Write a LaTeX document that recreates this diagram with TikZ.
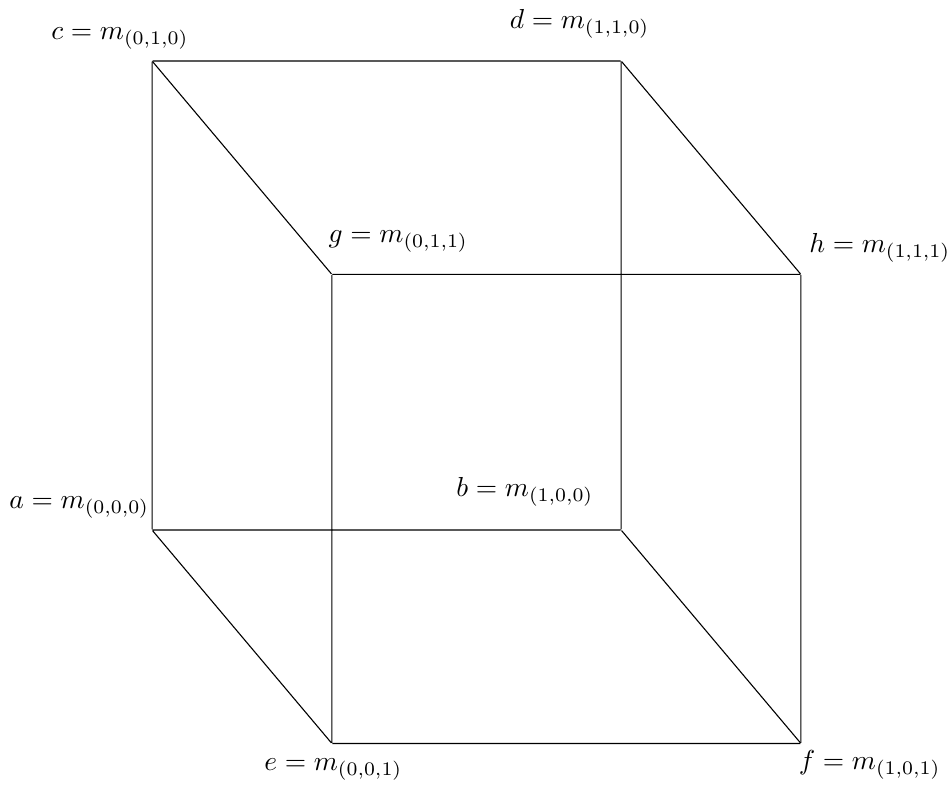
\documentclass[tikz,border=0pt]{standalone}
\usepackage{tikz}
\tikzstyle{corner}=[inner sep=0pt, minimum size=0pt]
\tikzstyle{tag}=[inner sep=0pt]

\begin{document}
\begin{tikzpicture}
	\useasboundingbox (-1.945,-3.288) rectangle (10.22,6.78);
	\node[corner] (a) at (0,0) {};
	\node[corner] (b) at (6,0) {};
	\node[corner] (c) at (0,6) {};
	\node[corner] (d) at (6,6) {};
	\node[corner] (e) at (2.3,-2.73) {};
	\node[corner] (f) at (8.3,-2.73) {};
	\node[corner] (g) at (2.3,3.27) {};
	\node[corner] (h) at (8.3,3.27) {};
	\node[tag] (ta) at (-0.93,0.29) {$a=m_{(0,0,0)}$};
	\node[tag] (tb) at (4.77,0.49) {$b=m_{(1,0,0)}$};
	\node[tag] (tc) at (-0.41,6.29) {$c=m_{(0,1,0)}$};
	\node[tag] (td) at (5.47,6.47) {$d=m_{(1,1,0)}$};
	\node[tag] (te) at (2.32,-3.06) {$e=m_{(0,0,1)}$};
	\node[tag] (tf) at (9.18,-3.01) {$f=m_{(1,0,1)}$};
	\node[tag] (tg) at (3.15,3.69) {$g=m_{(0,1,1)}$};
	\node[tag] (th) at (9.31,3.61) {$h=m_{(1,1,1)}$};
	\path[draw=black] (a) -- (b) -- (d) -- (c) -- (a) -- (e) -- (f) -- (h) -- (g) -- (e);
	\path[draw=black] (c) -- (g);
	\path[draw=black] (d) -- (h);
	\path[draw=black] (b) -- (f);
\end{tikzpicture}
\end{document}
